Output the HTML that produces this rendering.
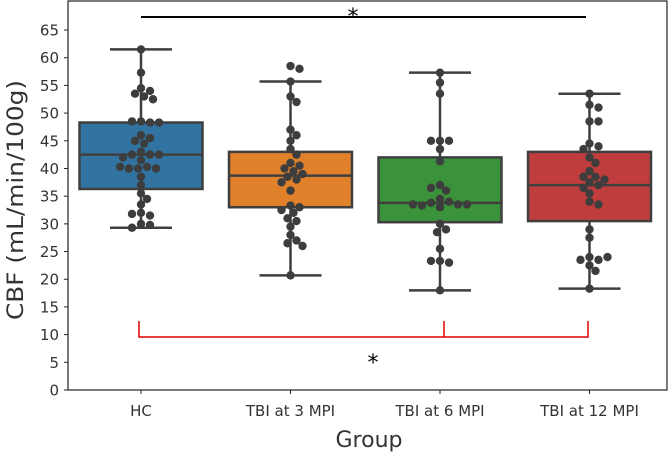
<!DOCTYPE html>
<html><head><meta charset="utf-8"><style>
body{margin:0;background:#fff;}
svg{display:block;font-family:"DejaVu Sans","Liberation Sans",sans-serif;}
</style></head><body>
<svg id="c" width="669" height="454"></svg>
<script>
const categories=["HC","TBI at 3 MPI","TBI at 6 MPI","TBI at 12 MPI"];
const colors=["#3274a1","#e1812c","#3a923a","#c03d3e"];
const q1=[36.3,33,30.3,30.5];
const med=[42.5,38.7,33.8,37];
const q3=[48.3,43,42,43];
const whiskLo=[29.3,20.7,18,18.3];
const whiskHi=[61.5,55.7,57.3,53.5];
const ptsHC=[61.5,57.3,54.5,54,53.5,53,52.5,48.5,48.3,48.5,48.3,46,45.5,45,44.5,43,42.5,42.5,42.5,42,41.5,40.3,40,40,40,40.3,38.5,37,35.5,34.5,33.5,32,31.5,31.8,30,29.8,29.3];
const pts3=[58.5,58,55.7,53,52,47,46,45,43.5,42.5,41,40.5,40,39.5,39,38.5,38,37.5,36,33.3,33,32.5,32,31,30.5,29.5,28,27,26.5,26,20.7];
const pts6=[57.3,55.5,53.5,45,45,45,43.5,41.3,37,36,36.5,34.5,34,33.8,33.5,33.3,33.5,33.5,33,30,29,28.5,25.5,23.3,23,23.3,18];
const pts12=[53.5,51.5,51,48.5,48.5,44.5,44,43.5,42,41,39.5,38.5,38.5,38,37.5,37,36.5,35.5,34,33.5,29,27.5,24,23.5,23.5,24,22.5,21.5,18.3];
const allPts=[ptsHC,pts3,pts6,pts12];
const yTicks=[0,5,10,15,20,25,30,35,40,45,50,55,60,65];

const NS="http://www.w3.org/2000/svg";
const svg=document.getElementById('c');
const L=68,R=667,T=1,B=390;
const y=v=>B-v*5.538;
const xc=i=>141+i*149.5;
const bw=123;
function mk(tag,attrs,parent){const e=document.createElementNS(NS,tag);for(const k in attrs)e.setAttribute(k,attrs[k]);(parent||svg).appendChild(e);return e;}

const frame=mk('rect',{x:L,y:T,width:R-L,height:B-T,fill:'none',stroke:'#222','stroke-width':1.2});



yTicks.forEach(v=>{
  const t=mk('line',{x1:L-4,x2:L,y1:y(v),y2:y(v),stroke:'#222'});
  
  
  const tx=mk('text',{x:L-9,y:y(v)+5.5,'text-anchor':'end','font-size':15,fill:'#333'});
  tx.textContent=v;
  
  
});

categories.forEach((c,i)=>{
  const g=mk('g',{});
  
  
  const cx=xc(i),s='#3f3f3f';
  mk('line',{x1:cx,x2:cx,y1:y(whiskHi[i]),y2:y(q3[i]),stroke:s,'stroke-width':2.5},g);
  mk('line',{x1:cx,x2:cx,y1:y(q1[i]),y2:y(whiskLo[i]),stroke:s,'stroke-width':2.5},g);
  mk('line',{x1:cx-31,x2:cx+31,y1:y(whiskHi[i]),y2:y(whiskHi[i]),stroke:s,'stroke-width':2.5},g);
  mk('line',{x1:cx-31,x2:cx+31,y1:y(whiskLo[i]),y2:y(whiskLo[i]),stroke:s,'stroke-width':2.5},g);
  mk('rect',{x:cx-bw/2,y:y(q3[i]),width:bw,height:y(q1[i])-y(q3[i]),fill:colors[i],stroke:s,'stroke-width':2.5},g);
  mk('line',{x1:cx-bw/2,x2:cx+bw/2,y1:y(med[i]),y2:y(med[i]),stroke:s,'stroke-width':2.5},g);
  const tk=mk('line',{x1:cx,x2:cx,y1:B,y2:B+4,stroke:'#222'});
  
  
  const lb=mk('text',{x:cx,y:B+26,'text-anchor':'middle','font-size':15,fill:'#333'});
  lb.textContent=c;
  
  
  const placed=[],r=4.2,d=2*r;
  allPts[i].forEach(v=>{
    const py=y(v);let off=0;
    for(let k=0;k<30;k++){
      const cand=k===0?0:(k%2?1:-1)*Math.ceil(k/2)*3;
      if(placed.every(p=>Math.hypot(p[0]-cand,p[1]-py)>=d*0.9)){off=cand;break;}
    }
    placed.push([off,py]);
    const dot=mk('circle',{cx:cx+off,cy:py,r:r,fill:'#3d3d3d'});
    
    
  });
});

const sig=mk('g',{});


mk('line',{x1:141,x2:586,y1:17,y2:17,stroke:'#000','stroke-width':2},sig);
const s1=mk('text',{x:353,y:24,'text-anchor':'middle','font-size':22,fill:'#000'},sig);s1.textContent='*';

const br=mk('g',{});


mk('path',{d:'M139 321 V337 H588 V321 M444 321 V337',fill:'none',stroke:'#e00000','stroke-width':1.5},br);
const s2=mk('text',{x:373,y:370,'text-anchor':'middle','font-size':22,fill:'#000'},br);s2.textContent='*';

const xl=mk('text',{x:369,y:447,'text-anchor':'middle','font-size':22,fill:'#333'});
xl.textContent='Group';


const yl=mk('text',{x:0,y:0,transform:'translate(23,200) rotate(-90)','text-anchor':'middle','font-size':22,fill:'#333',textLength:240,lengthAdjust:'spacingAndGlyphs'});
yl.textContent='CBF (mL/min/100g)';


</script>
</body></html>
